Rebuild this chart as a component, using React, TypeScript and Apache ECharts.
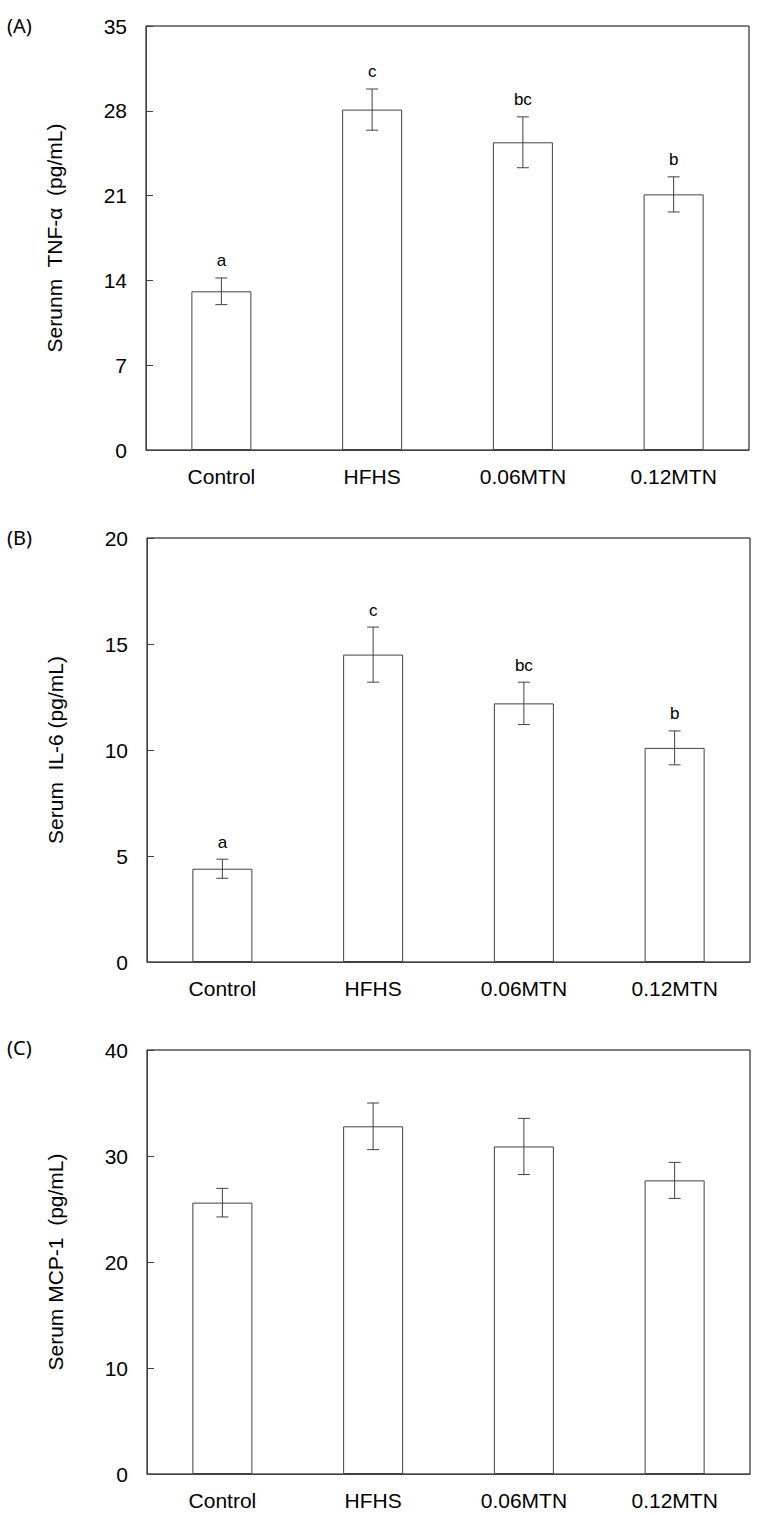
import React, { useEffect, useRef } from "react";
import * as echarts from "echarts";

const categories = ["Control", "HFHS", "0.06MTN", "0.12MTN"];

const tnfValues = [13.1, 28.1, 25.4, 21.1];
const tnfErrors = [1.1, 1.7, 2.1, 1.45];
const tnfLetters = ["a", "c", "bc", "b"];

const il6Values = [4.4, 14.5, 12.2, 10.1];
const il6Errors = [0.45, 1.3, 1.0, 0.8];
const il6Letters = ["a", "c", "bc", "b"];

const mcpValues = [25.6, 32.8, 30.9, 27.7];
const mcpErrors = [1.35, 2.2, 2.65, 1.7];
const mcpLetters = ["", "", "", ""];

const panelLabels = ["(A)", "(B)", "(C)"];
const yTitles = ["Serunm  TNF-α  (pg/mL)", "Serum  IL-6 (pg/mL)", "Serum MCP-1  (pg/mL)"];
const yMax = [35, 20, 40];
const yInterval = [7, 5, 10];

const FONT = "'Liberation Sans', Arial, sans-serif";
const AXIS_COLOR = "#404040";

export default function App() {
  const ref = useRef<HTMLDivElement>(null);

  useEffect(() => {
    if (!ref.current) return;
    const chart = echarts.init(ref.current, null, { renderer: "svg" });

    const panels = [
      { values: tnfValues, errors: tnfErrors, letters: tnfLetters },
      { values: il6Values, errors: il6Errors, letters: il6Letters },
      { values: mcpValues, errors: mcpErrors, letters: mcpLetters },
    ];
    const grids = [
      { left: 146, top: 26, width: 603, height: 424 },
      { left: 147, top: 538, width: 603, height: 424 },
      { left: 147, top: 1050, width: 603, height: 424 },
    ];
    const labelTops = [15, 527, 1037];

    const series: any[] = [];
    panels.forEach((p, gi) => {
      series.push({
        type: "bar",
        xAxisIndex: gi,
        yAxisIndex: gi,
        data: p.values,
        barWidth: 60,
        z: 2,
        itemStyle: { color: "#ffffff", borderColor: AXIS_COLOR, borderWidth: 1 },
        silent: true,
      });
      series.push({
        type: "custom",
        xAxisIndex: gi,
        yAxisIndex: gi,
        z: 5,
        data: p.values.map((v, i) => [i, v, p.errors[i]]),
        renderItem: (params: any, api: any) => {
          const i = api.value(0);
          const v = api.value(1);
          const e = api.value(2);
          const top = api.coord([i, v + e]);
          const bot = api.coord([i, v - e]);
          const x = top[0];
          const stroke = { stroke: AXIS_COLOR, lineWidth: 1 };
          const children: any[] = [
            { type: "line", shape: { x1: x, y1: top[1], x2: x, y2: bot[1] }, style: stroke },
            { type: "line", shape: { x1: x - 6, y1: top[1], x2: x + 6, y2: top[1] }, style: stroke },
            { type: "line", shape: { x1: x - 6, y1: bot[1], x2: x + 6, y2: bot[1] }, style: stroke },
          ];
          const letter = p.letters[params.dataIndex];
          if (letter) {
            children.push({
              type: "text",
              style: {
                text: letter,
                x: x,
                y: top[1] - 17,
                align: "center",
                verticalAlign: "middle",
                fontSize: 17,
                fontFamily: FONT,
                fill: "#000",
              },
            });
          }
          return { type: "group", children };
        },
        silent: true,
      });
    });

    chart.setOption({
      animation: false,
      grid: grids.map((g) => ({
        ...g,
        show: true,
        borderColor: "#000",
        borderWidth: 1,
        backgroundColor: "transparent",
      })),
      xAxis: grids.map((_, gi) => ({
        type: "category",
        gridIndex: gi,
        data: categories,
        axisLine: { lineStyle: { color: AXIS_COLOR, width: 1 } },
        axisTick: { show: false },
        axisLabel: { color: "#000", fontSize: 21, fontFamily: FONT, margin: 16 },
      })),
      yAxis: grids.map((_, gi) => ({
        type: "value",
        gridIndex: gi,
        min: 0,
        max: yMax[gi],
        interval: yInterval[gi],
        name: yTitles[gi],
        nameLocation: "middle",
        nameGap: 81,
        nameTextStyle: { color: "#000", fontSize: 21, fontFamily: FONT },
        axisLine: { show: true, lineStyle: { color: AXIS_COLOR, width: 1 } },
        axisTick: { show: true, inside: true, length: 7, lineStyle: { color: AXIS_COLOR } },
        splitLine: { show: false },
        axisLabel: { color: "#000", fontSize: 21, fontFamily: FONT, margin: 19 },
      })),
      graphic: panelLabels.map((t, i) => ({
        type: "text",
        left: 7,
        top: labelTops[i],
        style: { text: t, fontSize: 20, fontFamily: "'Noto Sans', sans-serif", fill: "#000" },
      })),
      series,
    });

    return () => chart.dispose();
  }, []);

  return (
    <div
      ref={ref}
      style={{ position: "absolute", left: 0, top: 0, width: 761, height: 1515, background: "#fff" }}
    />
  );
}
